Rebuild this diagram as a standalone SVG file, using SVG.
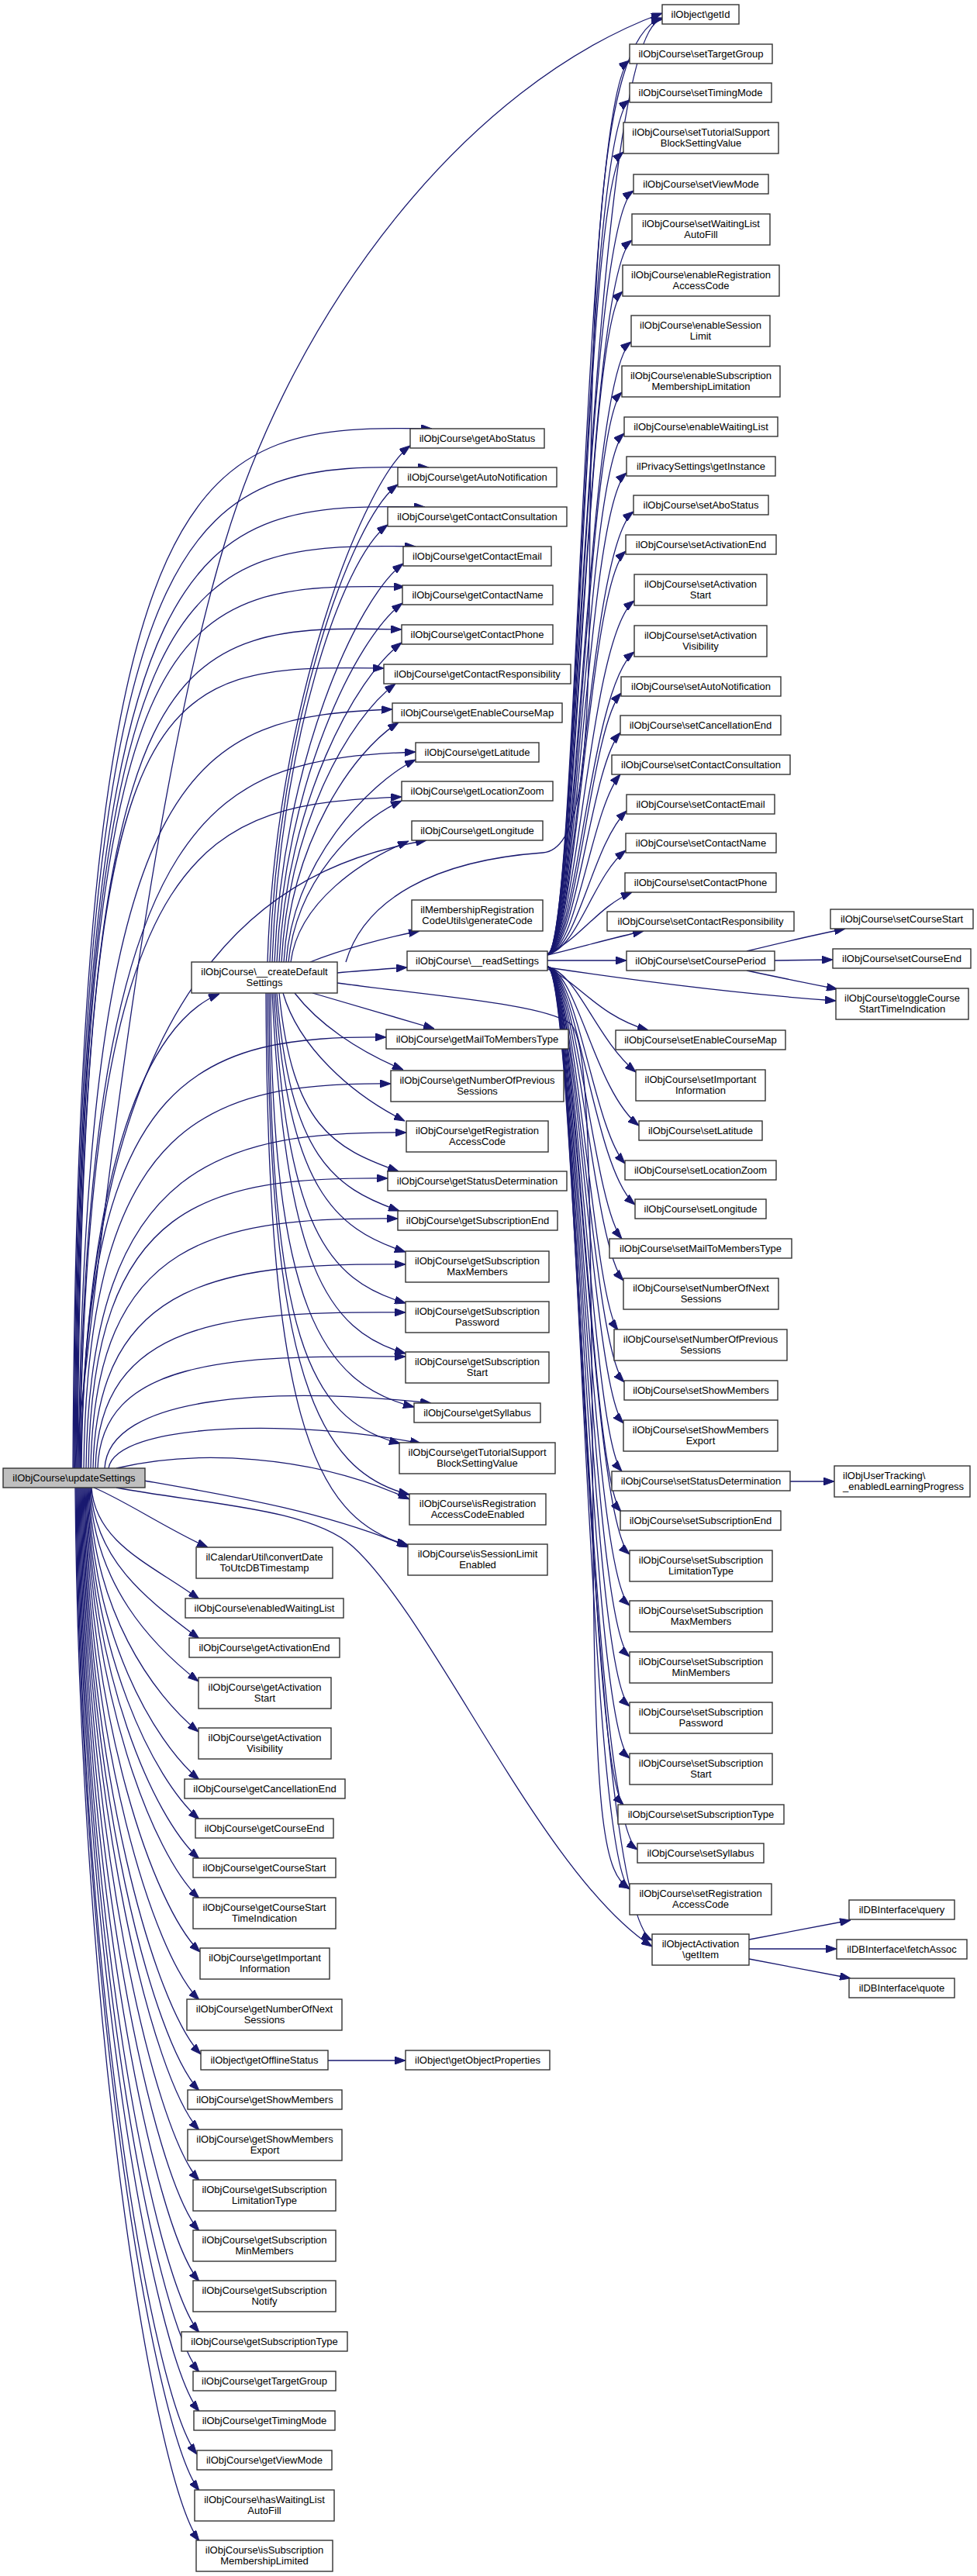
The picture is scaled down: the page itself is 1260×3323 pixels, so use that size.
<svg xmlns="http://www.w3.org/2000/svg" width="1260" height="3323" viewBox="0 0 1260 3323">
<defs>
<marker id="arrow" markerWidth="14" markerHeight="10" refX="14" refY="5" orient="auto" markerUnits="userSpaceOnUse"><path d="M0,0 L14,5 L0,10 z" fill="#191970" stroke="#191970" stroke-width="1"/></marker>
<style>
.node rect{fill:#ffffff;stroke:#333333;stroke-width:1.4}
.node.root rect{fill:#bfbfbf}
.node text{font-family:"Liberation Sans",Arial,Helvetica,sans-serif;font-size:13px;text-anchor:middle;fill:#000000}
.node text.l{text-anchor:start}
#edges path{fill:none;stroke:#191970;stroke-width:1.3;marker-end:url(#arrow)}
</style>
</defs>
<rect x="0" y="0" width="1260" height="3323" fill="#ffffff"/>
<g id="edges">
<path d="M96,1894 C140,1500 200,1000 290,700 C380,400 600,110 854,17"/>
<path d="M104,1894 C112,1500 190,1320 283,1282"/>
<path d="M121,1919 C160,1935 220,1975 268,1996"/>
<path d="M118,1919 C123,1991 197,2019 257,2063"/>
<path d="M117,1919 C122,2017 197,2068 257,2114"/>
<path d="M116,1919 C121,2044 196,2122 256,2169"/>
<path d="M115,1919 C120,2077 196,2185 256,2234"/>
<path d="M114,1919 C119,2108 197,2245 257,2296"/>
<path d="M113,1919 C118,2133 197,2294 257,2347"/>
<path d="M112,1919 C117,2159 197,2344 257,2398"/>
<path d="M111,1919 C116,2184 197,2393 257,2449"/>
<path d="M110,1919 C115,2219 198,2460 258,2518"/>
<path d="M109,1919 C114,2250 197,2520 257,2580"/>
<path d="M108,1919 C113,2285 199,2588 259,2650"/>
<path d="M107,1919 C112,2308 197,2634 257,2697"/>
<path d="M106,1919 C111,2334 197,2683 257,2748"/>
<path d="M105,1919 C110,2366 197,2746 257,2813"/>
<path d="M104,1919 C109,2399 197,2809 257,2878"/>
<path d="M103,1919 C108,2431 197,2872 257,2943"/>
<path d="M102,1919 C107,2464 197,2936 257,3009"/>
<path d="M101,1919 C106,2490 197,2986 257,3060"/>
<path d="M100,1919 C105,2515 197,3035 257,3111"/>
<path d="M99,1919 C104,2543 194,3089 254,3166"/>
<path d="M98,1919 C103,2566 197,3134 257,3213"/>
<path d="M97,1919 C102,2599 197,3197 257,3278"/>
<path d="M94,1894 C100,563 257,548 557,553"/>
<path d="M95,1894 C101,613 253,598 553,603"/>
<path d="M96,1894 C102,664 248,649 548,654"/>
<path d="M97,1894 C103,715 236,700 536,705"/>
<path d="M98,1894 C104,765 222,752 522,757"/>
<path d="M99,1894 C105,816 218,805 518,812"/>
<path d="M100,1894 C106,867 195,857 495,862"/>
<path d="M101,1894 C111,967 256,925 506,915"/>
<path d="M102,1894 C112,1018 286,980 536,970"/>
<path d="M103,1894 C113,1068 268,1038 518,1028"/>
<path d="M104,1894 C114,1200 400,1110 550,1084"/>
<path d="M105,1894 C110,1380 260,1336 498,1338"/>
<path d="M108,1894 C113,1438 274,1396 504,1398"/>
<path d="M111,1894 C116,1494 294,1459 524,1461"/>
<path d="M114,1894 C119,1547 270,1518 500,1520"/>
<path d="M117,1894 C122,1594 283,1570 513,1572"/>
<path d="M120,1894 C125,1647 293,1629 523,1631"/>
<path d="M123,1894 C128,1703 293,1691 523,1693"/>
<path d="M126,1894 C131,1754 293,1748 523,1750"/>
<path d="M135,1894 C140,1800 350,1788 556,1810"/>
<path d="M140,1894 C150,1835 380,1830 543,1862"/>
<path d="M150,1894 C250,1870 400,1875 528,1934"/>
<path d="M186,1910 C300,1930 420,1950 528,1996"/>
<path d="M150,1919 C260,1940 400,1945 455,1995 C560,2090 700,2420 841,2511"/>
<path d="M345,1241 C355,908 469,620 529,575"/>
<path d="M348,1241 C358,933 453,670 513,625"/>
<path d="M351,1241 C361,959 440,722 500,677"/>
<path d="M354,1241 C364,984 460,772 520,727"/>
<path d="M357,1241 C367,1010 459,823 519,778"/>
<path d="M360,1241 C370,1035 458,874 518,829"/>
<path d="M363,1241 C373,1062 450,927 510,882"/>
<path d="M366,1241 C376,1086 454,970 514,932"/>
<path d="M369,1241 C379,1110 476,1010 536,980"/>
<path d="M372,1241 C382,1137 458,1060 518,1033"/>
<path d="M375,1241 C385,1163 467,1110 527,1085"/>
<path d="M403,1281 C450,1295 510,1312 560,1327"/>
<path d="M380,1281 C410,1320 460,1355 520,1380"/>
<path d="M365,1281 C385,1350 452,1411 522,1446"/>
<path d="M360,1281 C377,1453 430,1481 514,1511"/>
<path d="M357,1281 C374,1492 430,1532 515,1562"/>
<path d="M355,1281 C372,1531 430,1585 523,1615"/>
<path d="M353,1281 C370,1581 420,1651 523,1681"/>
<path d="M351,1281 C368,1630 420,1716 523,1746"/>
<path d="M349,1281 C351,1682 414,1785 534,1815"/>
<path d="M347,1281 C349,1717 396,1832 516,1862"/>
<path d="M345,1281 C347,1766 408,1898 528,1928"/>
<path d="M343,1281 C345,1815 400,1960 526,1993"/>
<path d="M400,1241 C440,1225 495,1210 541,1201"/>
<path d="M435,1255 C465,1252 495,1250 525,1248"/>
<path d="M446,1241 C470,1160 560,1110 700,1100 C745,1096 758,1000 760,800 C762,400 768,50 854,23"/>
<path d="M435,1268 C560,1285 700,1295 735,1320 C760,1340 762,1500 765,2000 C767,2350 780,2420 812,2436"/>
<path d="M706,1231 C745,1226 760,35 854,25"/>
<path d="M706,1231 C745,1226 751,123 812,78"/>
<path d="M706,1231 C745,1226 751,174 812,129"/>
<path d="M706,1231 C745,1226 752,241 804,196"/>
<path d="M706,1231 C745,1226 753,291 817,246"/>
<path d="M706,1231 C745,1226 754,355 815,310"/>
<path d="M706,1231 C745,1226 754,421 803,376"/>
<path d="M706,1231 C745,1226 755,486 814,441"/>
<path d="M706,1231 C745,1226 756,551 802,506"/>
<path d="M706,1231 C745,1226 756,604 805,559"/>
<path d="M706,1231 C745,1226 757,655 808,610"/>
<path d="M706,1231 C745,1226 758,705 817,660"/>
<path d="M706,1231 C745,1226 758,756 807,711"/>
<path d="M706,1231 C745,1226 759,820 818,775"/>
<path d="M706,1231 C745,1226 760,886 818,841"/>
<path d="M706,1231 C745,1226 761,939 801,894"/>
<path d="M706,1231 C745,1226 761,990 800,945"/>
<path d="M706,1231 C745,1226 762,1044 800,999"/>
<path d="M706,1231 C745,1226 763,1091 808,1046"/>
<path d="M706,1231 C745,1224 765,1130 807,1097"/>
<path d="M706,1230 C745,1215 770,1170 815,1151"/>
<path d="M706,1232 C740,1224 790,1210 830,1201"/>
<path d="M706,1239 L808,1239"/>
<path d="M706,1248 C800,1262 950,1282 1078,1291"/>
<path d="M706,1250 C745,1265 770,1310 836,1329"/>
<path d="M706,1247 C745,1256 767,1338 820,1383"/>
<path d="M706,1247 C745,1256 767,1407 824,1452"/>
<path d="M706,1247 C745,1256 766,1456 806,1501"/>
<path d="M706,1247 C745,1256 766,1509 819,1554"/>
<path d="M706,1247 C745,1256 765,1553 802,1598"/>
<path d="M706,1247 C745,1256 764,1607 804,1652"/>
<path d="M706,1247 C745,1256 764,1671 797,1716"/>
<path d="M706,1247 C745,1256 763,1738 805,1783"/>
<path d="M706,1247 C745,1256 763,1791 804,1836"/>
<path d="M706,1247 C745,1256 762,1853 802,1898"/>
<path d="M706,1247 C745,1256 761,1905 801,1950"/>
<path d="M706,1247 C745,1256 761,1960 812,2005"/>
<path d="M706,1247 C745,1256 760,2026 812,2071"/>
<path d="M706,1247 C745,1256 760,2092 812,2137"/>
<path d="M706,1247 C745,1256 759,2156 812,2201"/>
<path d="M706,1247 C745,1256 758,2223 812,2268"/>
<path d="M706,1247 C745,1256 758,2283 804,2328"/>
<path d="M706,1247 C745,1256 757,2341 822,2386"/>
<path d="M706,1247 C745,1256 757,2392 812,2437"/>
<path d="M706,1247 C745,1256 756,2458 841,2503"/>
<path d="M963,1227 C1000,1218 1050,1206 1090,1198"/>
<path d="M999,1239 L1074,1238"/>
<path d="M963,1252 C1000,1260 1040,1268 1080,1276"/>
<path d="M1019,1911 L1076,1911"/>
<path d="M966,2502 L1097,2477"/>
<path d="M966,2514 L1079,2514"/>
<path d="M966,2527 L1097,2552"/>
<path d="M423,2658 L523,2658"/>
</g>
<g id="n_updateSettings" class="node root"><rect x="4" y="1894" width="183" height="25"/><text x="95.5" y="1911">ilObjCourse\updateSettings</text></g>
<g id="n_createDefaultSettings" class="node"><rect x="247" y="1241" width="188" height="40"/><text x="341" y="1258">ilObjCourse\__createDefault<tspan x="341" dy="14">Settings</tspan></text></g>
<g id="n_convertDate" class="node"><rect x="253" y="1996" width="176" height="40"/><text x="341" y="2013">ilCalendarUtil\convertDate<tspan x="341" dy="14">ToUtcDBTimestamp</tspan></text></g>
<g id="n_enabledWaitingList" class="node"><rect x="239" y="2062" width="204" height="25"/><text x="341" y="2079">ilObjCourse\enabledWaitingList</text></g>
<g id="n_getActivationEnd" class="node"><rect x="244" y="2113" width="194" height="25"/><text x="341" y="2130">ilObjCourse\getActivationEnd</text></g>
<g id="n_getActivationStart" class="node"><rect x="256" y="2164" width="171" height="40"/><text x="341.5" y="2181">ilObjCourse\getActivation<tspan x="341.5" dy="14">Start</tspan></text></g>
<g id="n_getActivationVisibility" class="node"><rect x="256" y="2229" width="171" height="40"/><text x="341.5" y="2246">ilObjCourse\getActivation<tspan x="341.5" dy="14">Visibility</tspan></text></g>
<g id="n_getCancellationEnd" class="node"><rect x="238" y="2295" width="207" height="25"/><text x="341.5" y="2312">ilObjCourse\getCancellationEnd</text></g>
<g id="n_getCourseEnd" class="node"><rect x="252" y="2346" width="178" height="25"/><text x="341" y="2363">ilObjCourse\getCourseEnd</text></g>
<g id="n_getCourseStart" class="node"><rect x="249" y="2397" width="184" height="25"/><text x="341" y="2414">ilObjCourse\getCourseStart</text></g>
<g id="n_getCourseStartTimeIndication" class="node"><rect x="249" y="2448" width="184" height="40"/><text x="341" y="2465">ilObjCourse\getCourseStart<tspan x="341" dy="14">TimeIndication</tspan></text></g>
<g id="n_getImportantInformation" class="node"><rect x="258" y="2513" width="167" height="40"/><text x="341.5" y="2530">ilObjCourse\getImportant<tspan x="341.5" dy="14">Information</tspan></text></g>
<g id="n_getNumberOfNextSessions" class="node"><rect x="241" y="2579" width="200" height="40"/><text x="341" y="2596">ilObjCourse\getNumberOfNext<tspan x="341" dy="14">Sessions</tspan></text></g>
<g id="n_getOfflineStatus" class="node"><rect x="259" y="2645" width="164" height="25"/><text x="341" y="2662">ilObject\getOfflineStatus</text></g>
<g id="n_getShowMembers" class="node"><rect x="242" y="2696" width="199" height="25"/><text x="341.5" y="2713">ilObjCourse\getShowMembers</text></g>
<g id="n_getShowMembersExport" class="node"><rect x="242" y="2747" width="199" height="40"/><text x="341.5" y="2764">ilObjCourse\getShowMembers<tspan x="341.5" dy="14">Export</tspan></text></g>
<g id="n_getSubscriptionLimitationType" class="node"><rect x="249" y="2812" width="184" height="40"/><text x="341" y="2829">ilObjCourse\getSubscription<tspan x="341" dy="14">LimitationType</tspan></text></g>
<g id="n_getSubscriptionMinMembers" class="node"><rect x="249" y="2877" width="184" height="40"/><text x="341" y="2894">ilObjCourse\getSubscription<tspan x="341" dy="14">MinMembers</tspan></text></g>
<g id="n_getSubscriptionNotify" class="node"><rect x="249" y="2942" width="184" height="40"/><text x="341" y="2959">ilObjCourse\getSubscription<tspan x="341" dy="14">Notify</tspan></text></g>
<g id="n_getSubscriptionType" class="node"><rect x="234" y="3008" width="214" height="25"/><text x="341" y="3025">ilObjCourse\getSubscriptionType</text></g>
<g id="n_getTargetGroup" class="node"><rect x="249" y="3059" width="184" height="25"/><text x="341" y="3076">ilObjCourse\getTargetGroup</text></g>
<g id="n_getTimingMode" class="node"><rect x="250" y="3110" width="182" height="25"/><text x="341" y="3127">ilObjCourse\getTimingMode</text></g>
<g id="n_getViewMode" class="node"><rect x="254" y="3161" width="174" height="25"/><text x="341" y="3178">ilObjCourse\getViewMode</text></g>
<g id="n_hasWaitingListAutoFill" class="node"><rect x="251" y="3212" width="180" height="40"/><text x="341" y="3229">ilObjCourse\hasWaitingList<tspan x="341" dy="14">AutoFill</tspan></text></g>
<g id="n_isSubscriptionMembershipLimited" class="node"><rect x="253" y="3277" width="176" height="40"/><text x="341" y="3294">ilObjCourse\isSubscription<tspan x="341" dy="14">MembershipLimited</tspan></text></g>
<g id="n_getAboStatus" class="node"><rect x="529" y="553" width="173" height="25"/><text x="615.5" y="570">ilObjCourse\getAboStatus</text></g>
<g id="n_getAutoNotification" class="node"><rect x="513" y="603" width="205" height="25"/><text x="615.5" y="620">ilObjCourse\getAutoNotification</text></g>
<g id="n_getContactConsultation" class="node"><rect x="500" y="654" width="231" height="25"/><text x="615.5" y="671">ilObjCourse\getContactConsultation</text></g>
<g id="n_getContactEmail" class="node"><rect x="520" y="705" width="191" height="25"/><text x="615.5" y="722">ilObjCourse\getContactEmail</text></g>
<g id="n_getContactName" class="node"><rect x="519" y="755" width="194" height="25"/><text x="616" y="772">ilObjCourse\getContactName</text></g>
<g id="n_getContactPhone" class="node"><rect x="518" y="806" width="195" height="25"/><text x="615.5" y="823">ilObjCourse\getContactPhone</text></g>
<g id="n_getContactResponsibility" class="node"><rect x="495" y="857" width="241" height="25"/><text x="615.5" y="874">ilObjCourse\getContactResponsibility</text></g>
<g id="n_getEnableCourseMap" class="node"><rect x="506" y="907" width="219" height="25"/><text x="615.5" y="924">ilObjCourse\getEnableCourseMap</text></g>
<g id="n_getLatitude" class="node"><rect x="536" y="958" width="159" height="25"/><text x="615.5" y="975">ilObjCourse\getLatitude</text></g>
<g id="n_getLocationZoom" class="node"><rect x="518" y="1008" width="195" height="25"/><text x="615.5" y="1025">ilObjCourse\getLocationZoom</text></g>
<g id="n_getLongitude" class="node"><rect x="531" y="1059" width="169" height="25"/><text x="615.5" y="1076">ilObjCourse\getLongitude</text></g>
<g id="n_generateCode" class="node"><rect x="531" y="1161" width="169" height="40"/><text x="615.5" y="1178">ilMembershipRegistration<tspan x="615.5" dy="14">CodeUtils\generateCode</tspan></text></g>
<g id="n_readSettings" class="node"><rect x="525" y="1227" width="181" height="25"/><text x="615.5" y="1244">ilObjCourse\__readSettings</text></g>
<g id="n_getMailToMembersType" class="node"><rect x="498" y="1328" width="235" height="25"/><text x="615.5" y="1345">ilObjCourse\getMailToMembersType</text></g>
<g id="n_getNumberOfPreviousSessions" class="node"><rect x="504" y="1381" width="223" height="40"/><text x="615.5" y="1398">ilObjCourse\getNumberOfPrevious<tspan x="615.5" dy="14">Sessions</tspan></text></g>
<g id="n_getRegistrationAccessCode" class="node"><rect x="524" y="1446" width="183" height="40"/><text x="615.5" y="1463">ilObjCourse\getRegistration<tspan x="615.5" dy="14">AccessCode</tspan></text></g>
<g id="n_getStatusDetermination" class="node"><rect x="500" y="1511" width="231" height="25"/><text x="615.5" y="1528">ilObjCourse\getStatusDetermination</text></g>
<g id="n_getSubscriptionEnd" class="node"><rect x="513" y="1562" width="206" height="25"/><text x="616" y="1579">ilObjCourse\getSubscriptionEnd</text></g>
<g id="n_getSubscriptionMaxMembers" class="node"><rect x="523" y="1614" width="185" height="40"/><text x="615.5" y="1631">ilObjCourse\getSubscription<tspan x="615.5" dy="14">MaxMembers</tspan></text></g>
<g id="n_getSubscriptionPassword" class="node"><rect x="523" y="1679" width="185" height="40"/><text x="615.5" y="1696">ilObjCourse\getSubscription<tspan x="615.5" dy="14">Password</tspan></text></g>
<g id="n_getSubscriptionStart" class="node"><rect x="523" y="1744" width="185" height="40"/><text x="615.5" y="1761">ilObjCourse\getSubscription<tspan x="615.5" dy="14">Start</tspan></text></g>
<g id="n_getSyllabus" class="node"><rect x="534" y="1810" width="163" height="25"/><text x="615.5" y="1827">ilObjCourse\getSyllabus</text></g>
<g id="n_getTutorialSupportBlockSettingValue" class="node"><rect x="515" y="1861" width="201" height="40"/><text x="615.5" y="1878">ilObjCourse\getTutorialSupport<tspan x="615.5" dy="14">BlockSettingValue</tspan></text></g>
<g id="n_isRegistrationAccessCodeEnabled" class="node"><rect x="528" y="1927" width="176" height="40"/><text x="616" y="1944">ilObjCourse\isRegistration<tspan x="616" dy="14">AccessCodeEnabled</tspan></text></g>
<g id="n_isSessionLimitEnabled" class="node"><rect x="526" y="1992" width="180" height="40"/><text x="616" y="2009">ilObjCourse\isSessionLimit<tspan x="616" dy="14">Enabled</tspan></text></g>
<g id="n_getObjectProperties" class="node"><rect x="523" y="2645" width="186" height="25"/><text x="616" y="2662">ilObject\getObjectProperties</text></g>
<g id="n_getId" class="node"><rect x="854" y="6" width="99" height="25"/><text x="903.5" y="23">ilObject\getId</text></g>
<g id="n_setTargetGroup" class="node"><rect x="812" y="57" width="184" height="25"/><text x="904" y="74">ilObjCourse\setTargetGroup</text></g>
<g id="n_setTimingMode" class="node"><rect x="812" y="107" width="183" height="25"/><text x="903.5" y="124">ilObjCourse\setTimingMode</text></g>
<g id="n_setTutorialSupportBlockSettingValue" class="node"><rect x="804" y="158" width="200" height="40"/><text x="904" y="175">ilObjCourse\setTutorialSupport<tspan x="904" dy="14">BlockSettingValue</tspan></text></g>
<g id="n_setViewMode" class="node"><rect x="817" y="225" width="174" height="25"/><text x="904" y="242">ilObjCourse\setViewMode</text></g>
<g id="n_setWaitingListAutoFill" class="node"><rect x="815" y="276" width="178" height="40"/><text x="904" y="293">ilObjCourse\setWaitingList<tspan x="904" dy="14">AutoFill</tspan></text></g>
<g id="n_enableRegistrationAccessCode" class="node"><rect x="803" y="342" width="202" height="40"/><text x="904" y="359">ilObjCourse\enableRegistration<tspan x="904" dy="14">AccessCode</tspan></text></g>
<g id="n_enableSessionLimit" class="node"><rect x="814" y="407" width="179" height="40"/><text x="903.5" y="424">ilObjCourse\enableSession<tspan x="903.5" dy="14">Limit</tspan></text></g>
<g id="n_enableSubscriptionMembershipLimitation" class="node"><rect x="802" y="472" width="204" height="40"/><text x="904" y="489">ilObjCourse\enableSubscription<tspan x="904" dy="14">MembershipLimitation</tspan></text></g>
<g id="n_enableWaitingList" class="node"><rect x="805" y="538" width="198" height="25"/><text x="904" y="555">ilObjCourse\enableWaitingList</text></g>
<g id="n_getInstance" class="node"><rect x="808" y="589" width="192" height="25"/><text x="904" y="606">ilPrivacySettings\getInstance</text></g>
<g id="n_setAboStatus" class="node"><rect x="817" y="639" width="174" height="25"/><text x="904" y="656">ilObjCourse\setAboStatus</text></g>
<g id="n_setActivationEnd" class="node"><rect x="807" y="690" width="194" height="25"/><text x="904" y="707">ilObjCourse\setActivationEnd</text></g>
<g id="n_setActivationStart" class="node"><rect x="818" y="741" width="171" height="40"/><text x="903.5" y="758">ilObjCourse\setActivation<tspan x="903.5" dy="14">Start</tspan></text></g>
<g id="n_setActivationVisibility" class="node"><rect x="818" y="807" width="171" height="40"/><text x="903.5" y="824">ilObjCourse\setActivation<tspan x="903.5" dy="14">Visibility</tspan></text></g>
<g id="n_setAutoNotification" class="node"><rect x="801" y="873" width="206" height="25"/><text x="904" y="890">ilObjCourse\setAutoNotification</text></g>
<g id="n_setCancellationEnd" class="node"><rect x="800" y="923" width="207" height="25"/><text x="903.5" y="940">ilObjCourse\setCancellationEnd</text></g>
<g id="n_setContactConsultation" class="node"><rect x="789" y="974" width="230" height="25"/><text x="904" y="991">ilObjCourse\setContactConsultation</text></g>
<g id="n_setContactEmail" class="node"><rect x="808" y="1025" width="191" height="25"/><text x="903.5" y="1042">ilObjCourse\setContactEmail</text></g>
<g id="n_setContactName" class="node"><rect x="807" y="1075" width="194" height="25"/><text x="904" y="1092">ilObjCourse\setContactName</text></g>
<g id="n_setContactPhone" class="node"><rect x="806" y="1126" width="195" height="25"/><text x="903.5" y="1143">ilObjCourse\setContactPhone</text></g>
<g id="n_setContactResponsibility" class="node"><rect x="783" y="1176" width="241" height="25"/><text x="903.5" y="1193">ilObjCourse\setContactResponsibility</text></g>
<g id="n_setCoursePeriod" class="node"><rect x="808" y="1227" width="191" height="25"/><text x="903.5" y="1244">ilObjCourse\setCoursePeriod</text></g>
<g id="n_setEnableCourseMap" class="node"><rect x="794" y="1329" width="219" height="25"/><text x="903.5" y="1346">ilObjCourse\setEnableCourseMap</text></g>
<g id="n_setImportantInformation" class="node"><rect x="820" y="1380" width="167" height="40"/><text x="903.5" y="1397">ilObjCourse\setImportant<tspan x="903.5" dy="14">Information</tspan></text></g>
<g id="n_setLatitude" class="node"><rect x="824" y="1446" width="159" height="25"/><text x="903.5" y="1463">ilObjCourse\setLatitude</text></g>
<g id="n_setLocationZoom" class="node"><rect x="806" y="1497" width="195" height="25"/><text x="903.5" y="1514">ilObjCourse\setLocationZoom</text></g>
<g id="n_setLongitude" class="node"><rect x="819" y="1547" width="169" height="25"/><text x="903.5" y="1564">ilObjCourse\setLongitude</text></g>
<g id="n_setMailToMembersType" class="node"><rect x="786" y="1598" width="235" height="25"/><text x="903.5" y="1615">ilObjCourse\setMailToMembersType</text></g>
<g id="n_setNumberOfNextSessions" class="node"><rect x="804" y="1649" width="200" height="40"/><text x="904" y="1666">ilObjCourse\setNumberOfNext<tspan x="904" dy="14">Sessions</tspan></text></g>
<g id="n_setNumberOfPreviousSessions" class="node"><rect x="792" y="1715" width="223" height="40"/><text x="903.5" y="1732">ilObjCourse\setNumberOfPrevious<tspan x="903.5" dy="14">Sessions</tspan></text></g>
<g id="n_setShowMembers" class="node"><rect x="805" y="1781" width="198" height="25"/><text x="904" y="1798">ilObjCourse\setShowMembers</text></g>
<g id="n_setShowMembersExport" class="node"><rect x="804" y="1832" width="199" height="40"/><text x="903.5" y="1849">ilObjCourse\setShowMembers<tspan x="903.5" dy="14">Export</tspan></text></g>
<g id="n_setStatusDetermination" class="node"><rect x="789" y="1898" width="230" height="25"/><text x="904" y="1915">ilObjCourse\setStatusDetermination</text></g>
<g id="n_setSubscriptionEnd" class="node"><rect x="800" y="1949" width="207" height="25"/><text x="903.5" y="1966">ilObjCourse\setSubscriptionEnd</text></g>
<g id="n_setSubscriptionLimitationType" class="node"><rect x="812" y="2000" width="184" height="40"/><text x="904" y="2017">ilObjCourse\setSubscription<tspan x="904" dy="14">LimitationType</tspan></text></g>
<g id="n_setSubscriptionMaxMembers" class="node"><rect x="812" y="2065" width="184" height="40"/><text x="904" y="2082">ilObjCourse\setSubscription<tspan x="904" dy="14">MaxMembers</tspan></text></g>
<g id="n_setSubscriptionMinMembers" class="node"><rect x="812" y="2131" width="184" height="40"/><text x="904" y="2148">ilObjCourse\setSubscription<tspan x="904" dy="14">MinMembers</tspan></text></g>
<g id="n_setSubscriptionPassword" class="node"><rect x="812" y="2196" width="184" height="40"/><text x="904" y="2213">ilObjCourse\setSubscription<tspan x="904" dy="14">Password</tspan></text></g>
<g id="n_setSubscriptionStart" class="node"><rect x="812" y="2262" width="184" height="40"/><text x="904" y="2279">ilObjCourse\setSubscription<tspan x="904" dy="14">Start</tspan></text></g>
<g id="n_setSubscriptionType" class="node"><rect x="797" y="2328" width="214" height="25"/><text x="904" y="2345">ilObjCourse\setSubscriptionType</text></g>
<g id="n_setSyllabus" class="node"><rect x="822" y="2378" width="163" height="25"/><text x="903.5" y="2395">ilObjCourse\setSyllabus</text></g>
<g id="n_setRegistrationAccessCode" class="node"><rect x="812" y="2430" width="183" height="40"/><text x="903.5" y="2447">ilObjCourse\setRegistration<tspan x="903.5" dy="14">AccessCode</tspan></text></g>
<g id="n_getItem" class="node"><rect x="841" y="2495" width="125" height="40"/><text x="903.5" y="2512">ilObjectActivation<tspan x="903.5" dy="14">\getItem</tspan></text></g>
<g id="n_setCourseStart" class="node"><rect x="1071" y="1173" width="184" height="25"/><text x="1163" y="1190">ilObjCourse\setCourseStart</text></g>
<g id="n_setCourseEnd" class="node"><rect x="1074" y="1224" width="178" height="25"/><text x="1163" y="1241">ilObjCourse\setCourseEnd</text></g>
<g id="n_toggleCourseStartTimeIndication" class="node"><rect x="1078" y="1275" width="171" height="40"/><text x="1163.5" y="1292">ilObjCourse\toggleCourse<tspan x="1163.5" dy="14">StartTimeIndication</tspan></text></g>
<g id="n_enabledLearningProgress" class="node"><rect x="1076" y="1891" width="175" height="40"/><text class="l" x="1087" y="1908">ilObjUserTracking\<tspan x="1087" dy="14">_enabledLearningProgress</tspan></text></g>
<g id="n_query" class="node"><rect x="1095" y="2451" width="136" height="25"/><text x="1163" y="2468">ilDBInterface\query</text></g>
<g id="n_fetchAssoc" class="node"><rect x="1079" y="2502" width="168" height="25"/><text x="1163" y="2519">ilDBInterface\fetchAssoc</text></g>
<g id="n_quote" class="node"><rect x="1095" y="2552" width="136" height="25"/><text x="1163" y="2569">ilDBInterface\quote</text></g>
</svg>
